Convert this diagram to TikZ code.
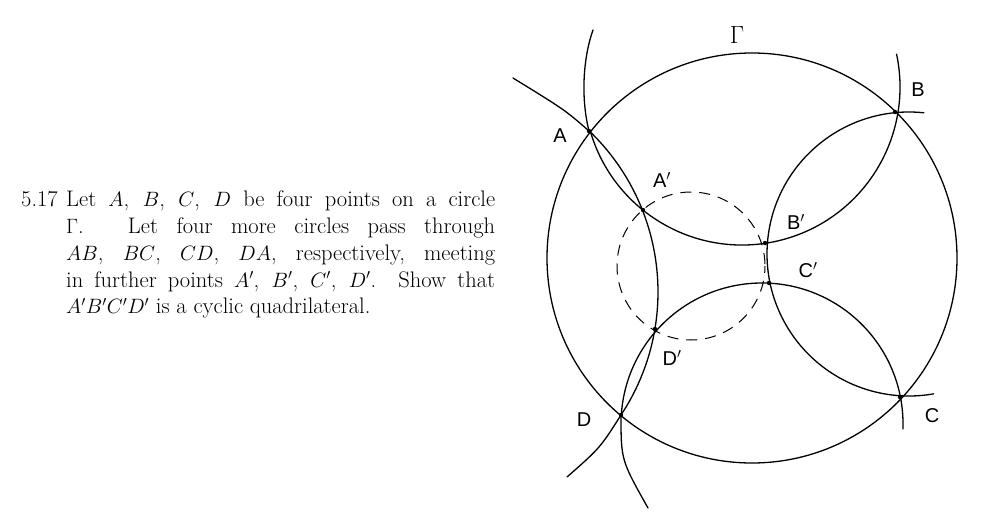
\documentclass[tikz,border=0pt]{standalone}
\usepackage{fontspec}
\newfontfamily\hand{Liberation Sans}
\begin{document}
\begin{tikzpicture}[x=1pt,y=-1pt,
  arcline/.style={line width=1.3pt,line cap=round},
  lab/.style={font=\hand\fontsize{20}{20}\selectfont,inner sep=0pt},
  pt/.style={circle,fill=black,inner sep=0pt,minimum size=4pt}]
\useasboundingbox (0,0) rectangle (993,525);
\node[anchor=north west,text width=474pt,align=justify,inner sep=0pt,font=\fontsize{22.5}{26.7}\selectfont] (txt) at (21,191)
{\hangindent=45pt\hangafter=1\makebox[45pt][l]{5.17}Let $A$, $B$, $C$, $D$ be four points on a circle\linebreak
$\Gamma$. Let four more circles pass through\linebreak
$AB$, $BC$, $CD$, $DA$, respectively, meeting\linebreak
in further points $A'$, $B'$, $C'$, $D'$. Show that\linebreak
$A'B'C'D'$ is a cyclic quadrilateral.\par};
% points
\coordinate (A) at (589,131);
\coordinate (B) at (895,112);
\coordinate (C) at (900,397);
\coordinate (D) at (621,415);
\coordinate (A1) at (643,210);
\coordinate (B1) at (765,243);
\coordinate (C1) at (769,283);
\coordinate (D1) at (655,329);
\coordinate (tA) at (513,78);
\coordinate (tA2) at (593,30);
\coordinate (tD) at (567,477);
\coordinate (tD2) at (648,508);
% Gamma
\node[draw,circle,line width=1.3pt,minimum size=410pt,inner sep=0pt] (G) at (752,258) {};
% four circles
\draw[arcline] (742,87) ++(164:158) arc[start angle=164,end angle=-12,radius=158];
\draw[arcline] (909,254) ++(276:142) arc[start angle=276,end angle=80,radius=142];
\draw[arcline] (762,424) ++(362:141) arc[start angle=362,end angle=183.7,radius=141];
\draw[arcline] (435,292) ++(-46.3:223) arc[start angle=-46.3,end angle=33.5,radius=223];
% tails
\draw[arcline] (A) .. controls (565,110) .. (tA);
\draw[arcline] (A) .. controls (580,95) and (584,55) .. (tA2);
\draw[arcline] (D) .. controls (600,448) .. (tD);
\draw[arcline] (D) .. controls (621,460) .. (tD2);
% dashed circle
\draw[line width=1pt,dash pattern=on 11pt off 8pt,dash phase=4pt] (691,266) circle[radius=74];
% dots
\foreach \p in {A,B,C,D,A1,B1,C1,D1} \fill (\p) circle[radius=2.2];
% labels
\node[lab,font=\fontsize{26}{26}\selectfont] (lG) at (737,35) {$\Gamma$};
\node[lab] (lA) at (560,136) {A};
\node[lab] (lB) at (918,90) {B};
\node[lab] (lC) at (932,416) {C};
\node[lab] (lD) at (584,420) {D};
\node[lab] (lA1) at (662,180) {A$'$};
\node[lab] (lB1) at (796,222) {B$'$};
\node[lab] (lC1) at (808,270) {C$'$};
\node[lab] (lD1) at (672,358) {D$'$};
\end{tikzpicture}
\end{document}
